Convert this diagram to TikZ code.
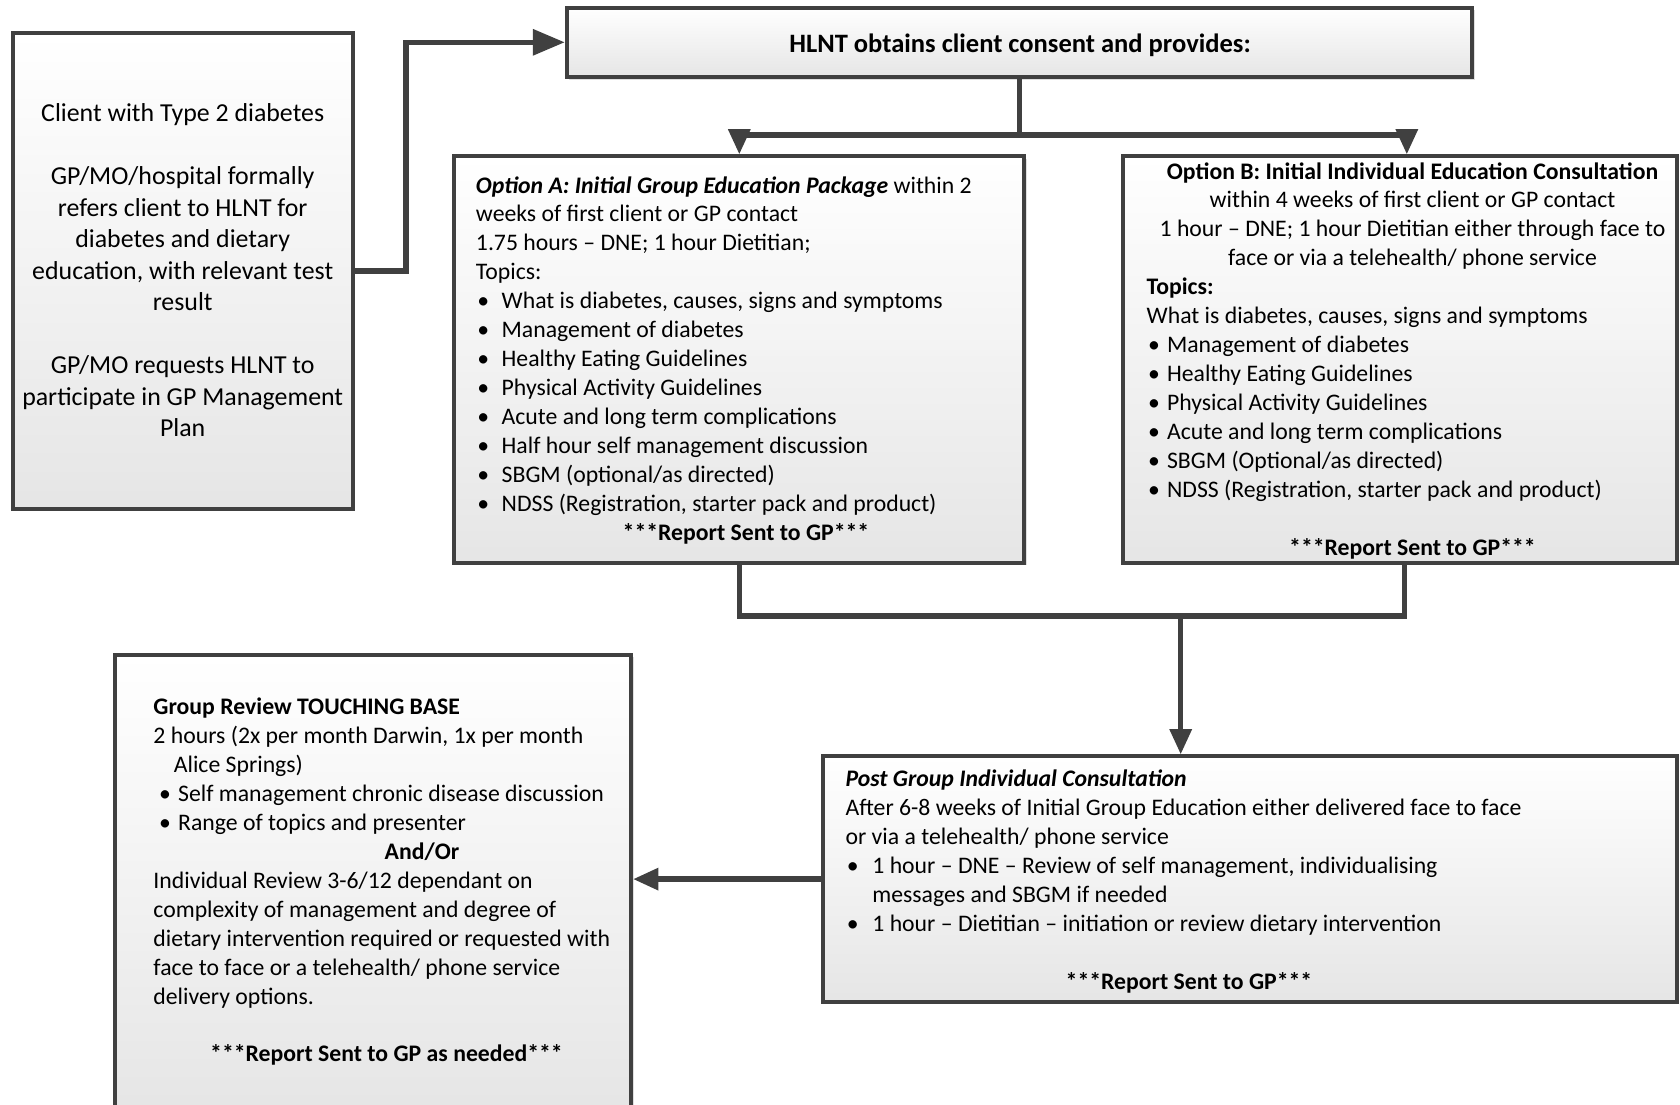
\documentclass[tikz,border=0pt]{standalone}
\usepackage{fontspec}
\setmainfont{Carlito}
\usetikzlibrary{arrows.meta,shadows,calc,fit}

\definecolor{edge}{HTML}{404040}

% bullet of a list line: indent before the dot, total width up to the text
\newcommand{\itembul}[2]{\makebox[#2][l]{\hspace*{#1}\textbullet}}
\newcommand{\bA}{\itembul{1pt}{19.3pt}}
\newcommand{\bB}{\itembul{1pt}{15.3pt}}
\newcommand{\bP}{\itembul{1pt}{20.1pt}}
\newcommand{\bG}{\itembul{4.2pt}{18.5pt}}

\tikzset{
  box/.style={draw=edge, line width=3pt, top color=white, bottom color=black!10,
    inner sep=0pt,
    drop shadow={shadow xshift=1.8pt, shadow yshift=-1.8pt, opacity=0.25}},
  conn/.style={draw=edge, line width=4pt},
  arr/.style={conn, -{Triangle[length=19pt,width=16pt]}},
  bigarr/.style={conn, -{Triangle[length=24pt,width=19pt]}},
  txt/.style={anchor=base west, inner sep=0pt, font=\fontsize{17.8}{21.7}\selectfont},
  ctxt/.style={txt, anchor=base},
  big/.style={anchor=base, inner sep=0pt, font=\fontsize{19.4}{23.7}\selectfont},
}

\begin{document}
\begin{tikzpicture}[x=0.75pt,y=-0.75pt]
\useasboundingbox (0,0) rectangle (1680,1104);

% boxes
\node[box, fit={(12.9,33.2) (352.5,508.9)}] (client) {};
\node[box, fit={(566.8,7.5) (1472.1,77.1)}] (hlnt) {};
\node[box, fit={(454.3,156.4) (1024.3,562.5)}] (A) {};
\node[box, fit={(1122.8,156.4) (1677,562.5)}] (B) {};
\node[box, fit={(822.8,756.4) (1677,1001.8)}] (post) {};
\node[box, fit={(114.6,654.6) (631.1,1112)}] (group) {};

% connectors
\draw[bigarr] (client.east) -- ++(51.4,0) |- (hlnt.west);
\draw[conn] (hlnt.south) -- ++(0,55.8) coordinate (fork);
\draw[arr] (fork) -| (A.north);
\draw[arr] (fork) -| ($(B.north)+(6.9,0)$);
\draw[conn] (A.south) -- ++(0,51.5) coordinate (joinA) -| ($(B.south)+(4.6,0)$);
\coordinate (merge) at (1180.7,614);
\draw[arr] (merge) -- (merge |- post.north);
\draw[arr] (post.west) -- (post.west -| group.east);

% client box text
\foreach \t [count=\i] in {{Client with Type 2 diabetes},{},{GP/MO/hospital formally},
  {refers client to HLNT for},{diabetes and dietary},{education, with relevant test},
  {result},{},{GP/MO requests HLNT to},{participate in GP Management},{Plan}}
  \node[big] (c\i) at (182.7,{121.9+(\i-1)*31.5}) {\t};

% consent box text
\node[ctxt, font=\fontsize{19.9}{24.3}\selectfont] (h1) at (1020,52.4)
  {\textbf{HLNT obtains client consent and provides:}};

% option A
\foreach \t [count=\i] in {
  {\textbf{\textit{Option A: Initial Group Education Package}} within 2},
  {weeks of first client or GP contact},
  {1.75 hours – DNE; 1 hour Dietitian;},
  {Topics:},
  {\bA What is diabetes, causes, signs and symptoms},
  {\bA Management of diabetes},
  {\bA Healthy Eating Guidelines},
  {\bA Physical Activity Guidelines},
  {\bA Acute and long term complications},
  {\bA Half hour self management discussion},
  {\bA SBGM (optional/as directed)},
  {\bA NDSS (Registration, starter pack and product)}}
  \node[txt] (a\i) at (475.7,{193.0+(\i-1)*28.93}) {\t};
\node[ctxt] (aR) at (746,540.2) {\textbf{***Report Sent to GP***}};

% option B
\foreach \t [count=\i] in {
  {\textbf{Option B: Initial Individual Education Consultation}},
  {within 4 weeks of first client or GP contact},
  {1 hour – DNE; 1 hour Dietitian either through face to},
  {face or via a telehealth/ phone service}}
  \node[ctxt] (bc\i) at (1412.5,{179.0+(\i-1)*28.93}) {\t};
\foreach \t [count=\i] in {
  {\textbf{Topics:}},
  {What is diabetes, causes, signs and symptoms},
  {\bB Management of diabetes},
  {\bB Healthy Eating Guidelines},
  {\bB Physical Activity Guidelines},
  {\bB Acute and long term complications},
  {\bB SBGM (Optional/as directed)},
  {\bB NDSS (Registration, starter pack and product)}}
  \node[txt] (b\i) at (1146.4,{294.7+(\i-1)*28.93}) {\t};
\node[ctxt] (bR) at (1412.5,555.1) {\textbf{***Report Sent to GP***}};

% post group consultation
\foreach \t [count=\i] in {
  {\textbf{\textit{Post Group Individual Consultation}}},
  {After 6-8 weeks of Initial Group Education either delivered face to face},
  {or via a telehealth/ phone service},
  {\bP 1 hour – DNE – Review of self management, individualising},
  {\hspace*{20.1pt}messages and SBGM if needed},
  {\bP 1 hour – Dietitian – initiation or review dietary intervention}}
  \node[txt] (p\i) at (845.3,{786.5+(\i-1)*28.93}) {\t};
\node[ctxt] (pR) at (1189,989.0) {\textbf{***Report Sent to GP***}};

% group review
\foreach \t [count=\i] in {
  {\textbf{Group Review TOUCHING BASE}},
  {2 hours (2x per month Darwin, 1x per month},
  {\hspace*{15.3pt}Alice Springs)},
  {\bG Self management chronic disease discussion},
  {\bG Range of topics and presenter},
  {},
  {Individual Review 3-6/12 dependant on},
  {complexity of management and degree of},
  {dietary intervention required or requested with},
  {face to face or a telehealth/ phone service},
  {delivery options.}}
  \node[txt] (g\i) at (153.2,{714.7+(\i-1)*28.93}) {\t};
\node[ctxt] (gAO) at (422,859.4) {\textbf{And/Or}};
\node[ctxt] (gR) at (386.5,1061.9) {\textbf{***Report Sent to GP as needed***}};
\end{tikzpicture}
\end{document}
